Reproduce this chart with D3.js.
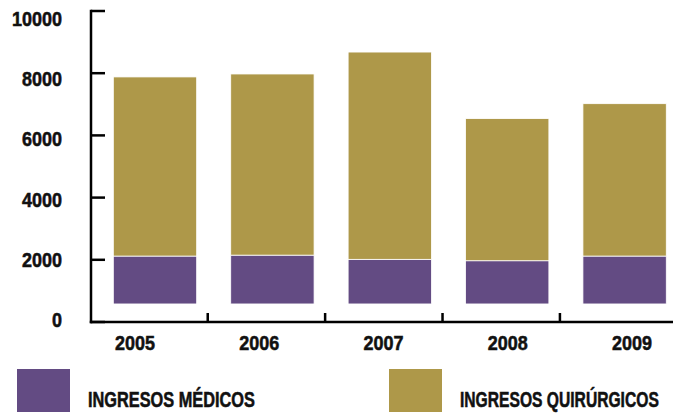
<!DOCTYPE html>
<html>
<head>
<meta charset="utf-8">
<script src="https://cdn.jsdelivr.net/npm/d3@7"></script>
<style>
  body { margin: 0; background: #fff; }
  svg text { font-family: "Liberation Sans", Arial, sans-serif; font-weight: bold; fill: #111; stroke: #111; stroke-width: 0.55px; }
</style>
</head>
<body>
<div id="chart"></div>
<script>
const years = ["2005", "2006", "2007", "2008", "2009"];
const baseValue = 580;                                  // where the bars start on the axis
const medicosTop = [2120, 2150, 2015, 1970, 2120];      // top of purple segment
const totalTop = [7880, 7975, 8680, 6540, 7020];        // top of gold segment
const yTicks = [0, 2000, 4000, 6000, 8000, 10000];
const legendLabels = ["INGRESOS MÉDICOS", "INGRESOS QUIRÚRGICOS"];
const colors = ["#634b83", "#ae9849"];

const width = 673, height = 413;

const svg = d3.select("#chart").append("svg")
    .attr("width", width)
    .attr("height", height);

const x = d3.scaleBand().domain(years).range([96.3, 683.3])
    .paddingInner(0.29).paddingOuter(0.145);
const y = d3.scaleLinear().domain([0, 10000]).range([322, 11]);
// labels in the original sit on a slightly tighter spacing than the ticks
const yLabel = d3.scaleLinear().domain([0, 10000]).range([327, 26]);
const xLabel = d3.scalePoint().domain(years).range([135, 632]);

// squeeze text horizontally (condensed look) to a target width
function condense(sel, targetW, anchorX, anchorY, align) {
    sel.each(function (d, i) {
        const t = d3.select(this).attr("x", 0).attr("y", 0);
        const w = this.getComputedTextLength();
        const tw = targetW(d, i);
        const sx = tw / w;
        let px = anchorX(d, i);
        if (align === "end") px -= tw;
        if (align === "middle") px -= tw / 2;
        t.attr("transform", `translate(${px},${anchorY(d, i)}) scale(${sx},1)`);
    });
}

// bars
const rows = years.map((yr, i) => ({ year: yr, base: baseValue, med: medicosTop[i], tot: totalTop[i] }));

svg.selectAll(".med").data(rows).enter().append("rect")
    .attr("class", "med")
    .attr("x", d => x(d.year))
    .attr("y", d => y(d.med))
    .attr("width", x.bandwidth())
    .attr("height", d => y(d.base) - y(d.med))
    .attr("fill", colors[0])
    .attr("stroke", "#fff").attr("stroke-width", 0.8);

svg.selectAll(".quir").data(rows).enter().append("rect")
    .attr("class", "quir")
    .attr("x", d => x(d.year))
    .attr("y", d => y(d.tot))
    .attr("width", x.bandwidth())
    .attr("height", d => y(d.med) - y(d.tot))
    .attr("fill", colors[1])
    .attr("stroke", "#fff").attr("stroke-width", 0.8);

// y axis: line with inward ticks
const axisG = svg.append("g").attr("stroke", "#000").attr("stroke-width", 2.5).attr("fill", "none");
axisG.append("line")
    .attr("x1", 91).attr("x2", 91)
    .attr("y1", y(10000) - 1.25).attr("y2", y(0) + 1.25);
axisG.selectAll(".ytick").data(yTicks).enter().append("line")
    .attr("x1", 91).attr("x2", 105)
    .attr("y1", d => y(d)).attr("y2", d => y(d));

// x axis
axisG.append("line")
    .attr("x1", 89.75).attr("x2", width)
    .attr("y1", y(0)).attr("y2", y(0));
axisG.selectAll(".xtick").data(years.slice(1)).enter().append("line")
    .attr("x1", d => x(d) - 23).attr("x2", d => x(d) - 23)
    .attr("y1", y(0)).attr("y2", y(0) - 9);

svg.selectAll(".ylab").data(yTicks).enter().append("text")
    .style("font-size", "20px")
    .text(d => d)
    .call(condense, d => String(d).length * 10, () => 62, d => yLabel(d), "end");

svg.selectAll(".xlab").data(years).enter().append("text")
    .style("font-size", "21px")
    .text(d => d)
    .call(condense, () => 40, d => xLabel(d), () => 350, "middle");

// legend
const legendX = [17, 389];
const legendW = [167, 199];
const legend = svg.selectAll(".legend").data(legendLabels).enter().append("g")
    .attr("transform", (d, i) => `translate(${legendX[i]},369)`);
legend.append("rect")
    .attr("width", 53).attr("height", 43)
    .attr("fill", (d, i) => colors[i]);
legend.append("text")
    .style("font-size", "21.5px")
    .text(d => d)
    .call(condense, (d, i) => legendW[i], () => 71, () => 38, "start");
</script>
</body>
</html>
